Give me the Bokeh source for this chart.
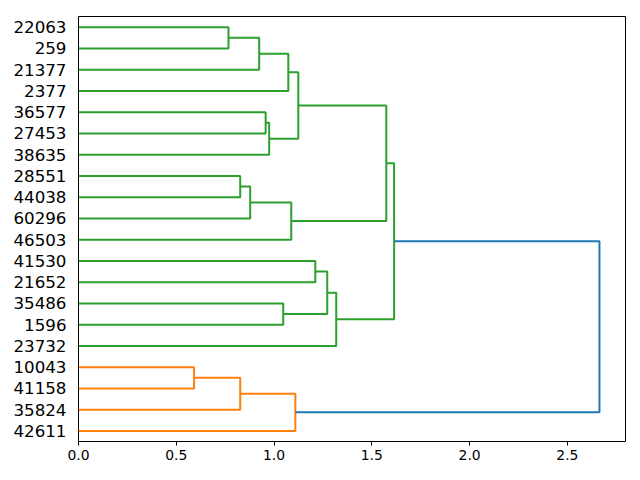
from bokeh.plotting import figure
from bokeh.models import FixedTicker, Range1d
from bokeh.embed import file_html
from bokeh.resources import INLINE

# Leaves, top to bottom as drawn
leaf_labels = ["22063", "259", "21377", "2377", "36577", "27453", "38635",
               "28551", "44038", "60296", "46503", "41530", "21652", "35486",
               "1596", "23732", "10043", "41158", "35824", "42611"]

# Linkage: children refer to leaf labels or to earlier merges "m<i>"
merge_left = ["10043", "m0", "m1",
              "22063", "m3", "m4", "36577", "m6", "m5",
              "28551", "m9", "m10", "m8",
              "41530", "35486", "m13", "m15", "m12", "m17"]
merge_right = ["41158", "35824", "42611",
               "259", "21377", "2377", "27453", "38635", "m7",
               "44038", "60296", "46503", "m11",
               "21652", "1596", "m14", "23732", "m16", "m2"]
merge_height = [0.591, 0.827, 1.109,
                0.767, 0.924, 1.073, 0.957, 0.975, 1.124,
                0.827, 0.878, 1.088, 1.574,
                1.211, 1.047, 1.272, 1.318, 1.614, 2.664]

palette = ["#ff7f0e", "#2ca02c"]
above_color = "#1f77b4"

n = len(leaf_labels)
leaf_y = {lab: 10 * (n - 1 - i) + 5 for i, lab in enumerate(leaf_labels)}

pos = dict(leaf_y)
hgt = {lab: 0.0 for lab in leaf_labels}
members = {lab: [lab] for lab in leaf_labels}
for i, (a, b, h) in enumerate(zip(merge_left, merge_right, merge_height)):
    key = f"m{i}"
    pos[key] = (pos[a] + pos[b]) / 2
    hgt[key] = h
    members[key] = members[a] + members[b]

threshold = 0.7 * max(merge_height)

# colour clusters: top-most merges below threshold, ordered by lowest y
cluster_roots = []
for i, h in enumerate(merge_height):
    key = f"m{i}"
    if h <= threshold:
        parent_above = True
        for j, (a, b) in enumerate(zip(merge_left, merge_right)):
            if key in (a, b) and merge_height[j] <= threshold:
                parent_above = False
        if parent_above:
            cluster_roots.append(key)
cluster_roots.sort(key=lambda k: min(leaf_y[l] for l in members[k]))
leaf_color = {}
for ci, k in enumerate(cluster_roots):
    for l in members[k]:
        leaf_color[l] = palette[ci % len(palette)]

xs, ys, cols = [], [], []
for i, (a, b, h) in enumerate(zip(merge_left, merge_right, merge_height)):
    xs.append([hgt[a], h, h, hgt[b]])
    ys.append([pos[a], pos[a], pos[b], pos[b]])
    key = f"m{i}"
    cols.append(above_color if h > threshold else leaf_color[members[key][0]])

xmax = max(merge_height) * 1.05

p = figure(output_backend="svg", toolbar_location=None,
           width=632, height=472,
           min_border_left=78, min_border_right=7,
           min_border_top=16, min_border_bottom=31,
           x_range=Range1d(0, xmax), y_range=Range1d(0, 10 * n))

p.multi_line(xs, ys, line_color=cols, line_width=2)

p.xgrid.visible = False
p.ygrid.visible = False
p.outline_line_color = "black"
p.outline_line_width = 1
p.outline_line_alpha = 1

p.xaxis.ticker = FixedTicker(ticks=[0, 0.5, 1.0, 1.5, 2.0, 2.5])
p.xaxis.major_label_overrides = {0: "0.0", 0.5: "0.5", 1.0: "1.0", 1.5: "1.5", 2.0: "2.0", 2.5: "2.5"}
p.xaxis.axis_line_color = None
p.xaxis.major_tick_out = 4
p.xaxis.major_tick_in = 0
p.xaxis.minor_tick_line_color = None
p.xaxis.major_label_standoff = 4
p.xaxis.major_label_text_font = "DejaVu Sans"
p.xaxis.major_label_text_font_size = "13.9px"
p.xaxis.major_label_text_color = "black"
p.xaxis.major_tick_line_color = "black"

p.yaxis.ticker = FixedTicker(ticks=[leaf_y[l] for l in leaf_labels])
p.yaxis.major_label_overrides = {leaf_y[l]: l for l in leaf_labels}
p.yaxis.axis_line_color = None
p.yaxis.major_tick_line_color = None
p.yaxis.minor_tick_line_color = None
p.yaxis.major_label_standoff = 6
p.yaxis.major_label_text_font = "DejaVu Sans"
p.yaxis.major_label_text_font_size = "16.7px"
p.yaxis.major_label_text_color = "black"

open("out.html", "w").write(file_html(p, INLINE))
